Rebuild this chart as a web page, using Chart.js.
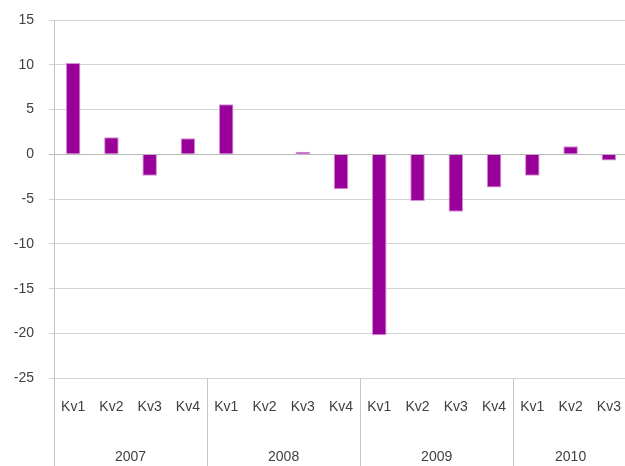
<!DOCTYPE html>
<html>
<head>
<meta charset="utf-8">
<script src="https://cdn.jsdelivr.net/npm/chart.js@4.4.0/dist/chart.umd.min.js"></script>
<style>
  html, body { margin: 0; padding: 0; background: #fff; overflow: hidden; }
  #wrap { width: 628px; height: 466px; }
</style>
</head>
<body>
<div id="wrap"><canvas id="chart"></canvas></div>
<script>
// Daten
const quarters = ["Kv1", "Kv2", "Kv3", "Kv4", "Kv1", "Kv2", "Kv3", "Kv4",
  "Kv1", "Kv2", "Kv3", "Kv4", "Kv1", "Kv2", "Kv3"];
const years = ["2007", "2008", "2009", "2010"];
const quartersPerYear = [4, 4, 4, 3];
const values = [10.2, 1.9, -2.4, 1.8, 5.6, 0, 0.3, -3.9,
  -20.2, -5.2, -6.4, -3.7, -2.4, 0.9, -0.7];
const yTicks = [15, 10, 5, 0, -5, -10, -15, -20, -25];

const textColor = "#404040";
const lineColor = "#c6c6c6";
const fontFamily = "'Liberation Sans', Arial, sans-serif";

// Jahresbeschriftung und Trennlinien unter der x-Achse
const yearGroups = {
  id: "yearGroups",
  afterDraw(chart) {
    const ctx = chart.ctx;
    const x = chart.scales.x;
    const area = chart.chartArea;
    const step = x.getPixelForValue(1) - x.getPixelForValue(0);
    let start = 0;
    ctx.save();
    ctx.strokeStyle = lineColor;
    ctx.lineWidth = 1;
    ctx.fillStyle = textColor;
    ctx.font = "14px " + fontFamily;
    ctx.textAlign = "center";
    ctx.textBaseline = "middle";
    years.forEach((year, i) => {
      const end = start + quartersPerYear[i] - 1;
      const left = x.getPixelForValue(start) - step / 2;
      const right = x.getPixelForValue(end) + step / 2;
      const lx = Math.round(left) + 0.5;
      ctx.beginPath();
      ctx.moveTo(lx, area.bottom);
      ctx.lineTo(lx, chart.height);
      ctx.stroke();
      ctx.fillText(year, (left + right) / 2, 457);
      start = end + 1;
    });
    ctx.restore();
  }
};

new Chart(document.getElementById("chart"), {
  type: "bar",
  data: {
    labels: quarters,
    datasets: [{
      data: values,
      backgroundColor: "#990099",
      borderColor: "#d68fd6",
      borderWidth: 1,
      barPercentage: 0.38,
      categoryPercentage: 1
    }]
  },
  options: {
    responsive: true,
    maintainAspectRatio: false,
    animation: false,
    layout: { padding: { top: 20, right: 0, bottom: 47, left: 0 } },
    plugins: { legend: { display: false }, tooltip: { enabled: false } },
    scales: {
      x: {
        grid: { display: false, drawTicks: true, tickLength: 18 },
        border: { display: false },
        afterFit(scale) {
          scale.paddingLeft = 0;
          scale.paddingRight = 0;
        },
        ticks: {
          color: textColor,
          font: { family: fontFamily, size: 14 },
          padding: 3,
          maxRotation: 0,
          autoSkip: false
        }
      },
      y: {
        min: -25,
        max: 15,
        afterBuildTicks(scale) {
          scale.ticks = yTicks.map(v => ({ value: v }));
        },
        afterFit(scale) {
          scale.width = 54;
          scale.paddingTop = 0;
        },
        grid: {
          color: (c) => c.tick && c.tick.value === 0 ? "#b8b8b8" : "#d4d4d4",
          tickLength: 5,
          lineWidth: 1
        },
        border: { display: true, color: lineColor },
        ticks: {
          color: textColor,
          font: { family: fontFamily, size: 14 },
          padding: 15
        }
      }
    }
  },
  plugins: [yearGroups]
});
</script>
</body>
</html>
